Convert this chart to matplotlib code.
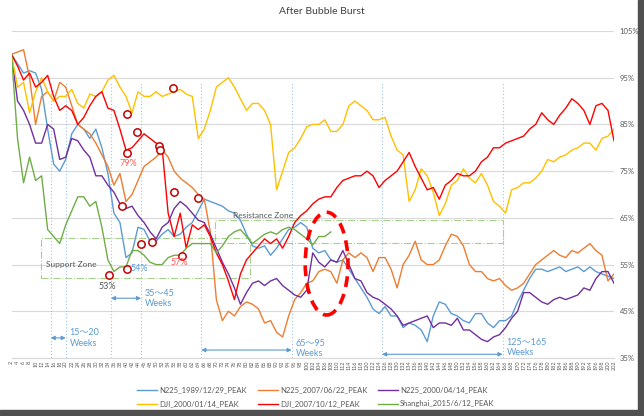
import matplotlib
matplotlib.use('Agg')
import matplotlib.pyplot as plt
from matplotlib.patches import Ellipse, Rectangle

plt.rcParams['font.family'] = ['Lato', 'Noto Sans CJK JP', 'DejaVu Sans']

# weeks after the peak (sampled every 2 weeks)
weeks = list(range(2, 204, 2))

n225_1989 = [100, 98, 96, 96.5, 96, 92.5, 84, 76.5, 75, 77.5,
             83, 85, 84, 82, 84, 80, 74.5, 66, 64, 56.5,
             57.5, 63, 62.5, 60, 60, 61.5, 62.5, 61, 61.5, 63,
             64, 66.5, 69, 68.5, 68, 67.5, 66.5, 66, 64.5, 61.5,
             59, 58.5, 59, 57, 58.5, 60.5, 62.5, 63, 64, 63,
             58.5, 57.5, 58, 56, 55.5, 56, 54, 52, 50, 48,
             45.5, 44.5, 46, 44, 44, 41.5, 42.5, 42, 41, 38.5,
             44, 47, 46.5, 44.5, 44, 43, 42.5, 44.5, 44.5, 42.5,
             41.5, 43, 43, 44, 47, 49.5, 52, 54, 54, 53.5,
             54, 54.5, 53.5, 54, 54.5, 53.5, 54.5, 53.5, 53, 52.5,
             52]
n225_2007 = [100, 100.5, 101, 95, 85, 91, 92, 90, 94, 93,
             89, 85, 84, 83, 81, 78.5, 76, 72, 74.5, 68.5,
             70, 73, 76, 77, 78, 79.5, 78, 75, 73.5, 72.5,
             71.5, 70, 69, 62, 47.5, 43, 45, 44, 46, 47,
             46.5, 45.5, 42.5, 43, 40.5, 39.5, 44, 47.5, 49, 51,
             51.5, 53.5, 54, 53.5, 51, 56, 57.5, 56.5, 57.5, 56.5,
             53.5, 56.5, 56.5, 54, 50, 55, 57, 60, 56, 55,
             55, 56, 59, 61.5, 61, 59, 55, 53.5, 53.5, 52,
             51.5, 52, 50.5, 49.5, 50, 51, 53, 55, 56, 57,
             58, 57, 56.5, 58, 57.5, 58.5, 59.5, 58, 57, 51.5,
             53]
n225_2000 = [100, 90, 88, 85, 81, 81, 85, 84, 77.5, 78,
             82, 81.5, 79.5, 78, 74, 74, 72, 70.5, 68, 67,
             67.5, 65.5, 64, 62, 60.5, 63, 64, 67, 68.5, 67.5,
             66, 64.5, 64, 61.5, 58.5, 55.5, 53, 50, 46.5, 49,
             51, 51.5, 50.5, 51.5, 52, 50.5, 49.5, 48.5, 48, 49.5,
             57.5, 55.5, 54.5, 56, 55.5, 58, 55, 52, 51.5, 49,
             48, 47.5, 46.5, 45.5, 44, 42, 42.5, 43, 43.5, 44,
             41.5, 42.5, 42.5, 42, 43.5, 41, 41, 40, 39, 38.5,
             39.5, 40, 41.5, 43.5, 45, 49, 49, 48, 47, 46.5,
             47.5, 48, 47.5, 48, 48.5, 50, 49.5, 52, 53.5, 53.5,
             51]
dji_2000 = [100, 93, 94, 87.5, 92, 95, 92, 90, 91, 91,
            92.5, 89.5, 88.5, 91.5, 91, 92, 94.5, 95.5, 93, 91,
            87.5, 92, 91, 91, 92, 91, 91.5, 92, 92.5, 91.5,
            91, 82, 84, 88, 93, 94, 95, 93, 90.5, 88,
            89.5, 89.5, 88, 85, 71, 75, 79, 80, 82, 84.5,
            85, 85, 86, 83.5, 83.5, 85, 89, 90, 89, 88,
            86, 86, 86.5, 82.5, 79.5, 78.5, 68.5, 71, 75.5, 74,
            70.5, 65.5, 68, 72, 73, 75.5, 73.5, 72.5, 74.5, 72,
            68.5, 67.5, 66, 71, 71.5, 72.5, 72.5, 73.5, 75, 77.5,
            77, 78, 78.5, 79.5, 80, 81, 81, 79.5, 82, 82.5,
            84]
dji_2007 = [100, 97.5, 94.5, 96, 93, 94, 95.5, 91, 88, 89,
            88, 85, 86.5, 89, 91, 92, 88.5, 88, 84, 79.5,
            80, 81.5, 83, 82, 81, 80, 66, 61, 66, 58.5,
            63.5, 62.5, 63.5, 61, 57.5, 55, 51.5, 47.5, 53, 56,
            57.5, 59, 60.5, 59.5, 60.5, 58.5, 61, 64, 65.5, 66.5,
            68, 69, 69.5, 69.5, 71.5, 73, 73.5, 74, 74, 75,
            74, 71.5, 73, 74, 75, 77, 79, 76, 73.5, 71,
            71.5, 69, 72, 73, 74.5, 74, 74, 75, 77, 78,
            80, 80, 81, 81.5, 82, 82.5, 84, 85, 87.5, 86,
            85, 87, 88.5, 90.5, 89.5, 88, 85, 89, 89.5, 88,
            81.5]
shanghai_weeks = list(range(2, 110, 2))
shanghai_2015 = [100, 82, 72.5, 78, 73, 74, 62.5, 61, 59.5, 63.5,
                 66.5, 69.5, 69.5, 67.5, 68.5, 63, 56, 53.5, 54.5, 54.5,
                 58, 58, 57, 55.5, 55, 55, 56.5, 57, 57, 58.5,
                 59.5, 59.5, 59.5, 59.5, 57.5, 59, 61, 62, 62.5, 61,
                 59.5, 60.5, 61.5, 62, 61.5, 62.5, 63, 62.5, 61.5, 60.5,
                 59.2, 61, 61, 62]

series_names = ['N225_1989/12/29_PEAK', 'N225_2007/06/22_PEAK', 'N225_2000/04/14_PEAK',
                'DJI_2000/01/14_PEAK', 'DJI_2007/10/12_PEAK', 'Shanghai_2015/6/12_PEAK']
series_colors = ['#5B9BD5', '#ED7D31', '#7030A0', '#FFC000', '#FF0000', '#70AD47']

# marked turning points
circle_weeks = [55.7, 40.2, 43.8, 40.2, 50.8, 51.4, 56.1, 64, 38.8, 45.1, 48.8, 58.7, 34.5, 40.2]
circle_vals = [92.8, 87.2, 83.4, 78.9, 80.4, 79.5, 70.5, 69.2, 67.5, 59.4, 59.8, 56.8, 52.8, 54]

pct_labels = ['79%', '53%', '54%', '57%']
pct_weeks = [40.8, 33.9, 44.5, 57.7]
pct_vals = [76.7, 50.2, 54.2, 55.5]
pct_colors = ['#FF5B5B', '#595959', '#5B9BD5', '#FF5B5B']

vline_weeks = [15, 20, 35, 45, 65, 95, 125, 165]
span_starts = [15, 35, 65, 125]
span_ends = [20, 45, 95, 165]
span_vals = [39.3, 47.8, 36.7, 35.8]
span_texts = ['15～20\nWeeks', '35～45\nWeeks', '65～95\nWeeks', '125～165\nWeeks']
span_text_vals = [39.3, 47.8, 37.0, 37.2]

support_zone = (11.7, 81.2, 52.1, 60.7)
resistance_zone = (69.6, 165, 59.6, 64.5)

fig = plt.figure(figsize=(6.44, 4.16), dpi=100)
ax = fig.add_axes([11.5 / 644, 1 - 358 / 416, 602.5 / 644, 327 / 416])

for vals, name, col in zip([n225_1989, n225_2007, n225_2000, dji_2000, dji_2007],
                           series_names[:5], series_colors[:5]):
    ax.plot(weeks, vals, color=col, lw=1.0, label=name, zorder=3)
ax.plot(shanghai_weeks, shanghai_2015, color=series_colors[5], lw=1.0,
        label=series_names[5], zorder=3)

ax.scatter(circle_weeks, circle_vals, s=28, facecolors='white', edgecolors='#C00000',
           linewidths=1.1, zorder=5)
for t, w, v, c in zip(pct_labels, pct_weeks, pct_vals, pct_colors):
    ax.text(w, v, t, color=c, fontsize=6.5, ha='center', va='center', zorder=6)

for w in vline_weeks:
    ax.plot([w, w], [35, 94.1], color='#9DC3E6', lw=0.8, ls=(0, (1, 2)), zorder=2)

for s, e, v, t, tv in zip(span_starts, span_ends, span_vals, span_texts, span_text_vals):
    ax.annotate('', xy=(s, v), xytext=(e, v),
                arrowprops=dict(arrowstyle='<|-|>', color='#5B9BD5', lw=0.8,
                                mutation_scale=6, shrinkA=0, shrinkB=0), zorder=4)
    ax.text(e + 1.3, tv, t, color='#5B9BD5', fontsize=6.5, ha='left', va='center',
            linespacing=1.2, zorder=4)

for (x0, x1, y0, y1) in [support_zone, resistance_zone]:
    ax.add_patch(Rectangle((x0, y0), x1 - x0, y1 - y0, fill=False, ec='#A9D18E',
                           lw=0.8, ls='-.', zorder=2))
ax.text(13.3, 55.1, 'Support Zone', color='#595959', fontsize=6, ha='left', va='center', zorder=4)
ax.text(75.6, 65.6, 'Resistance Zone', color='#595959', fontsize=6, ha='left', va='center', zorder=4)

ax.add_patch(Ellipse((106.6, 55.2), 14.2, 22, fill=False, ec='#FF0000', lw=2.6,
                     ls=(0, (3, 2)), zorder=6))

ax.set_xlim(2, 202)
ax.set_ylim(35, 105)
ax.set_yticks(range(35, 106, 10))
ax.set_yticklabels([f'{v}%' for v in range(35, 106, 10)])
ax.yaxis.tick_right()
ax.tick_params(axis='y', length=0, labelsize=5.5, labelcolor='#595959', pad=4)
ax.set_xticks(weeks)
ax.set_xticklabels([str(w) for w in weeks], rotation=90)
ax.tick_params(axis='x', length=0, labelsize=4, labelcolor='#595959', pad=2)
ax.grid(axis='y', color='#D9D9D9', lw=0.8)
for sp in ['top', 'right', 'left']:
    ax.spines[sp].set_visible(False)
ax.spines['bottom'].set_color('#D9D9D9')
ax.set_axisbelow(True)

fig.text(322 / 644, 1 - 12 / 416, 'After Bubble Burst', ha='center', va='center',
         fontsize=7.5, color='#404040')

h, l = ax.get_legend_handles_labels()
order = [0, 3, 1, 4, 2, 5]
fig.legend([h[i] for i in order], [l[i] for i in order], loc='center',
           bbox_to_anchor=(316 / 644, 1 - 397 / 416), ncol=3, frameon=False,
           fontsize=5.5, labelcolor='#595959', handlelength=2.6, columnspacing=1.4,
           handletextpad=0.3, labelspacing=0.9)

# screenshot shadow
fig.patches.append(Rectangle((638 / 644, 0), 6 / 644, 1, transform=fig.transFigure,
                             color='#505050', zorder=10))
fig.patches.append(Rectangle((0, 0), 1, 6 / 416, transform=fig.transFigure,
                             color='#505050', zorder=10))

fig.savefig('out.png', dpi=100)
